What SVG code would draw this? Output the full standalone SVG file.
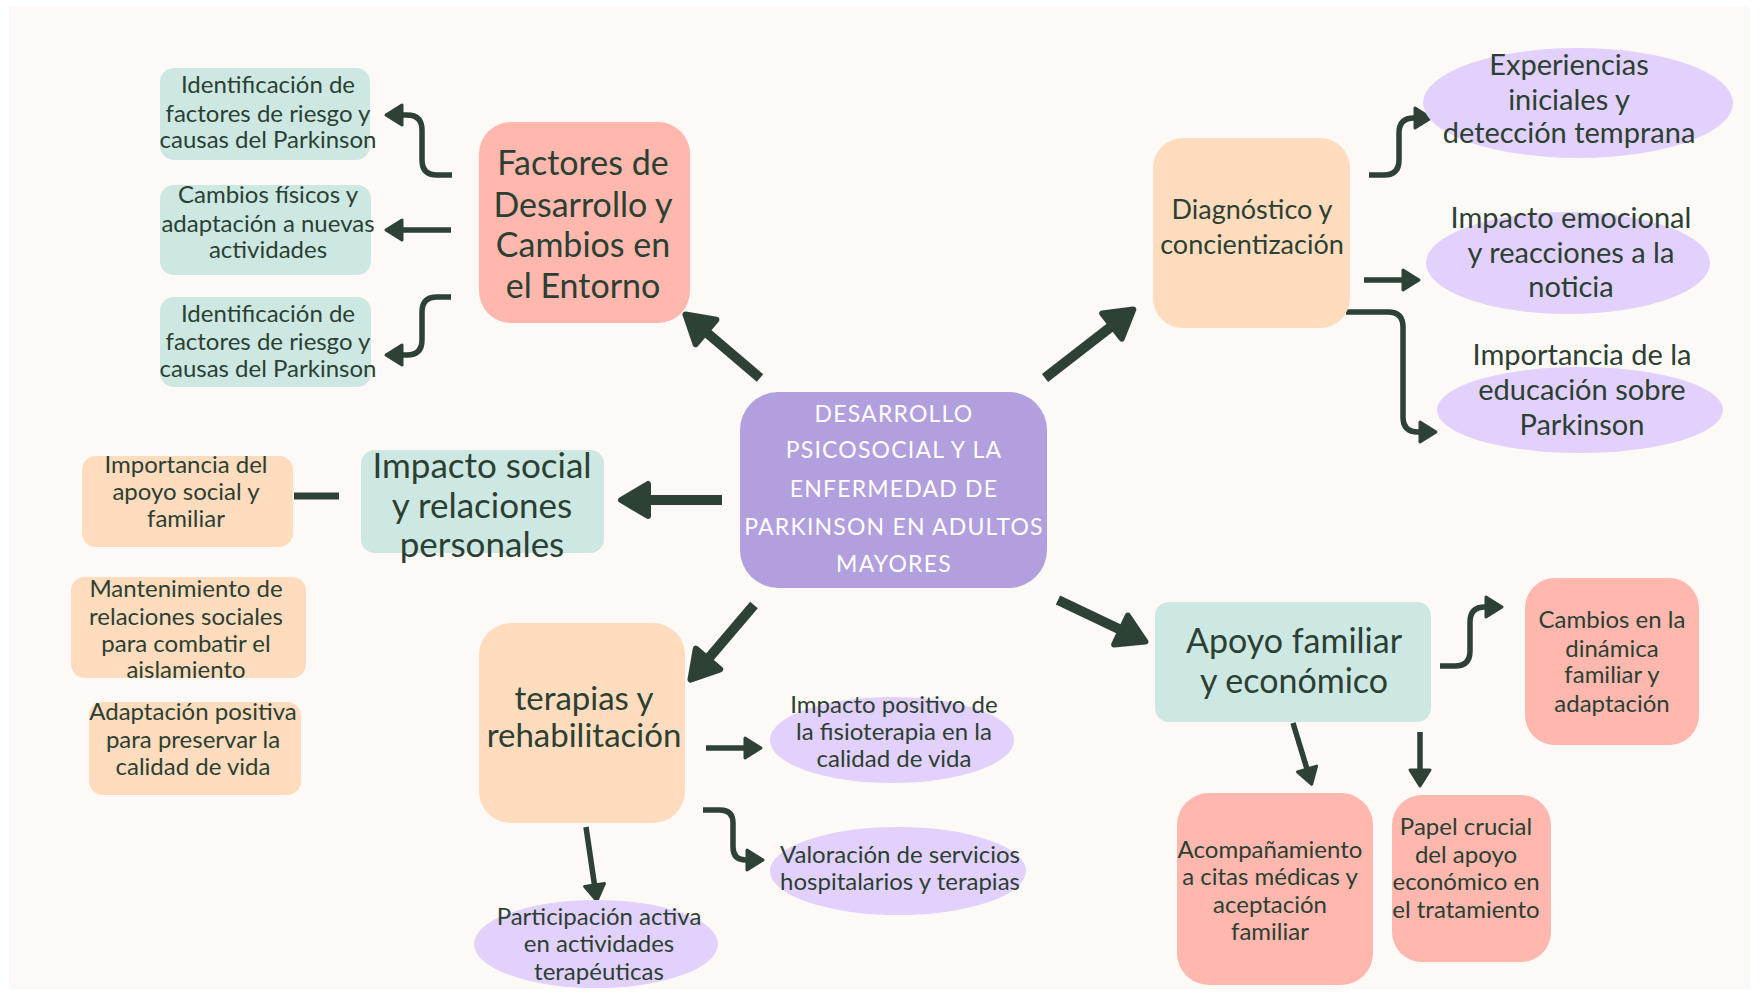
<svg xmlns="http://www.w3.org/2000/svg" width="1764" height="995" viewBox="0 0 1764 995">
<style>
.t{font-family:Lato,"Open Sans","Liberation Sans",sans-serif;fill:#2c3f33;text-anchor:middle;}
.s{font-size:24px;}
.m{font-size:29px;}
.l{font-size:34px;}
.c{font-family:Lato,"Open Sans","Liberation Sans",sans-serif;fill:#ffffff;text-anchor:middle;font-size:23px;letter-spacing:1.2px;}
.teal{fill:#cde8e2;}
.pink{fill:#ffb7ae;}
.peach{fill:#fedcbd;}
.lav{fill:#e2d1fc;}
.cen{fill:#b29fdd;}
.big{fill:none;stroke:#2d4235;stroke-width:10;}
.sm{fill:none;stroke:#2d4235;stroke-width:5.5;}
</style>
<defs>
<marker id="hb" markerUnits="userSpaceOnUse" viewBox="-4 -22 36 44" markerWidth="36" markerHeight="44" refX="0" refY="0" orient="auto">
<path d="M0,-16 L27,0 L0,16 Z" fill="#2d4235" stroke="#2d4235" stroke-width="6" stroke-linejoin="round"/>
</marker>
<marker id="hs" markerUnits="userSpaceOnUse" viewBox="-3 -14 22 28" markerWidth="22" markerHeight="28" refX="0" refY="0" orient="auto">
<path d="M0,-10 L16,0 L0,10 Z" fill="#2d4235" stroke="#2d4235" stroke-width="3" stroke-linejoin="round"/>
</marker>
</defs>
<rect x="0" y="0" width="1764" height="995" fill="#ffffff"/>
<rect x="9" y="6" width="1741" height="983" fill="#fdf9f6"/>

<g id="connectors">
<path class="big" d="M760,378 L706,332" marker-end="url(#hb)"/>
<path class="big" d="M1045,378 L1112,326" marker-end="url(#hb)"/>
<path class="big" d="M722,500 L648,500" marker-end="url(#hb)"/>
<path class="big" d="M754,605 L708,659" marker-end="url(#hb)"/>
<path class="big" d="M1058,600 L1121,630" marker-end="url(#hb)"/>
<path class="sm" d="M452,175 H437 Q422,175 422,160 V130 Q422,115 407,115 H402" marker-end="url(#hs)"/>
<path class="sm" d="M451,230 H402" marker-end="url(#hs)"/>
<path class="sm" d="M451,297 H437 Q422,297 422,312 V340 Q422,355 407,355 H402" marker-end="url(#hs)"/>
<path d="M294,496 H339" fill="none" stroke="#2d4235" stroke-width="7"/>
<path class="sm" d="M706,748 H745" marker-end="url(#hs)"/>
<path class="sm" d="M703,810 H720 Q733,810 733,823 V847 Q733,860 746,860 H747" marker-end="url(#hs)"/>
<path class="sm" d="M586,827 L594.5,885" marker-end="url(#hs)"/>
<path class="sm" d="M1369,175 H1384 Q1399,175 1399,160 V133 Q1399,118 1414,118 H1415" marker-end="url(#hs)"/>
<path class="sm" d="M1364,280 H1403" marker-end="url(#hs)"/>
<path class="sm" d="M1346,312 H1388 Q1403,312 1403,327 V417 Q1403,432 1418,432 H1420" marker-end="url(#hs)"/>
<path class="sm" d="M1440,666 H1455 Q1470,666 1470,651 V622 Q1470,607 1485,607 H1486" marker-end="url(#hs)"/>
<path class="sm" d="M1293,723 L1307,769" marker-end="url(#hs)"/>
<path class="sm" d="M1420,732 V770" marker-end="url(#hs)"/>
</g>

<g id="center">
<rect class="cen" x="740" y="392" width="307" height="196" rx="38"/>
<text class="c"><tspan x="894" y="422">DESARROLLO</tspan><tspan x="894" y="458">PSICOSOCIAL Y LA</tspan><tspan x="894" y="497">ENFERMEDAD DE</tspan><tspan x="894" y="535">PARKINSON EN ADULTOS</tspan><tspan x="894" y="572">MAYORES</tspan></text>
</g>

<g id="factores">
<rect class="pink" x="479" y="122" width="211" height="201" rx="32"/>
<text class="t l"><tspan x="583" y="175">Factores de</tspan><tspan x="583" y="217">Desarrollo y</tspan><tspan x="583" y="257">Cambios en</tspan><tspan x="583" y="298">el Entorno</tspan></text>
</g>
<g id="factores-1">
<rect class="teal" x="160" y="68" width="210" height="92" rx="14"/>
<text class="t s"><tspan x="268" y="93">Identificación de</tspan><tspan x="268" y="122">factores de riesgo y</tspan><tspan x="268" y="148">causas del Parkinson</tspan></text>
</g>
<g id="factores-2">
<rect class="teal" x="160" y="185" width="211" height="90" rx="14"/>
<text class="t s"><tspan x="268" y="203">Cambios físicos y</tspan><tspan x="268" y="232">adaptación a nuevas</tspan><tspan x="268" y="258">actividades</tspan></text>
</g>
<g id="factores-3">
<rect class="teal" x="160" y="297" width="211" height="90" rx="14"/>
<text class="t s"><tspan x="268" y="322">Identificación de</tspan><tspan x="268" y="350">factores de riesgo y</tspan><tspan x="268" y="377">causas del Parkinson</tspan></text>
</g>

<g id="impacto-social">
<rect class="teal" x="361" y="450" width="243" height="103" rx="14"/>
<text class="t" style="font-size:35px"><tspan x="482" y="478">Impacto social</tspan><tspan x="482" y="518">y relaciones</tspan><tspan x="482" y="557">personales</tspan></text>
</g>
<g id="social-1">
<rect class="peach" x="82" y="456" width="211" height="91" rx="14"/>
<text class="t s"><tspan x="186" y="473">Importancia del</tspan><tspan x="186" y="500">apoyo social y</tspan><tspan x="186" y="527">familiar</tspan></text>
</g>
<g id="social-2">
<rect class="peach" x="71" y="577" width="235" height="101" rx="14"/>
<text class="t s"><tspan x="186" y="597">Mantenimiento de</tspan><tspan x="186" y="625">relaciones sociales</tspan><tspan x="186" y="652">para combatir el</tspan><tspan x="186" y="678">aislamiento</tspan></text>
</g>
<g id="social-3">
<rect class="peach" x="89" y="702" width="212" height="93" rx="14"/>
<text class="t s"><tspan x="193" y="720">Adaptación positiva</tspan><tspan x="193" y="748">para preservar la</tspan><tspan x="193" y="775">calidad de vida</tspan></text>
</g>

<g id="terapias">
<rect class="peach" x="479" y="623" width="206" height="200" rx="32"/>
<text class="t" style="font-size:33px"><tspan x="584" y="710">terapias y</tspan><tspan x="584" y="747">rehabilitación</tspan></text>
</g>
<g id="terapias-1">
<ellipse class="lav" cx="892" cy="740" rx="122" ry="43"/>
<text class="t s"><tspan x="894" y="713">Impacto positivo de</tspan><tspan x="894" y="740">la fisioterapia en la</tspan><tspan x="894" y="767">calidad de vida</tspan></text>
</g>
<g id="terapias-2">
<ellipse class="lav" cx="898" cy="871" rx="128" ry="44"/>
<text class="t s"><tspan x="900" y="863">Valoración de servicios</tspan><tspan x="900" y="890">hospitalarios y terapias</tspan></text>
</g>
<g id="terapias-3">
<ellipse class="lav" cx="596" cy="944" rx="122" ry="44"/>
<text class="t s"><tspan x="599" y="925">Participación activa</tspan><tspan x="599" y="952">en actividades</tspan><tspan x="599" y="980">terapéuticas</tspan></text>
</g>

<g id="diagnostico">
<rect class="peach" x="1153" y="138" width="197" height="190" rx="30"/>
<text class="t" style="font-size:27px"><tspan x="1252" y="219">Diagnóstico y</tspan><tspan x="1252" y="254">concientización</tspan></text>
</g>
<g id="diagnostico-1">
<ellipse class="lav" cx="1578" cy="103" rx="155" ry="55"/>
<text class="t m"><tspan x="1569" y="75">Experiencias</tspan><tspan x="1569" y="110">iniciales y</tspan><tspan x="1569" y="143">detección temprana</tspan></text>
</g>
<g id="diagnostico-2">
<ellipse class="lav" cx="1568" cy="263" rx="142" ry="51"/>
<text class="t m"><tspan x="1571" y="228">Impacto emocional</tspan><tspan x="1571" y="263">y reacciones a la</tspan><tspan x="1571" y="297">noticia</tspan></text>
</g>
<g id="diagnostico-3">
<ellipse class="lav" cx="1580" cy="410" rx="143" ry="43"/>
<text class="t m"><tspan x="1582" y="365">Importancia de la</tspan><tspan x="1582" y="400">educación sobre</tspan><tspan x="1582" y="435">Parkinson</tspan></text>
</g>

<g id="apoyo">
<rect class="teal" x="1155" y="602" width="276" height="120" rx="14"/>
<text class="t l"><tspan x="1294" y="653">Apoyo familiar</tspan><tspan x="1294" y="693">y económico</tspan></text>
</g>
<g id="apoyo-1">
<rect class="pink" x="1525" y="578" width="174" height="167" rx="30"/>
<text class="t s"><tspan x="1612" y="628">Cambios en la</tspan><tspan x="1612" y="657">dinámica</tspan><tspan x="1612" y="683">familiar y</tspan><tspan x="1612" y="712">adaptación</tspan></text>
</g>
<g id="apoyo-2">
<rect class="pink" x="1177" y="793" width="196" height="192" rx="32"/>
<text class="t s"><tspan x="1270" y="858">Acompañamiento</tspan><tspan x="1270" y="885">a citas médicas y</tspan><tspan x="1270" y="913">aceptación</tspan><tspan x="1270" y="940">familiar</tspan></text>
</g>
<g id="apoyo-3">
<rect class="pink" x="1392" y="795" width="159" height="167" rx="30"/>
<text class="t s"><tspan x="1466" y="835">Papel crucial</tspan><tspan x="1466" y="863">del apoyo</tspan><tspan x="1466" y="890">económico en</tspan><tspan x="1466" y="918">el tratamiento</tspan></text>
</g>
</svg>
